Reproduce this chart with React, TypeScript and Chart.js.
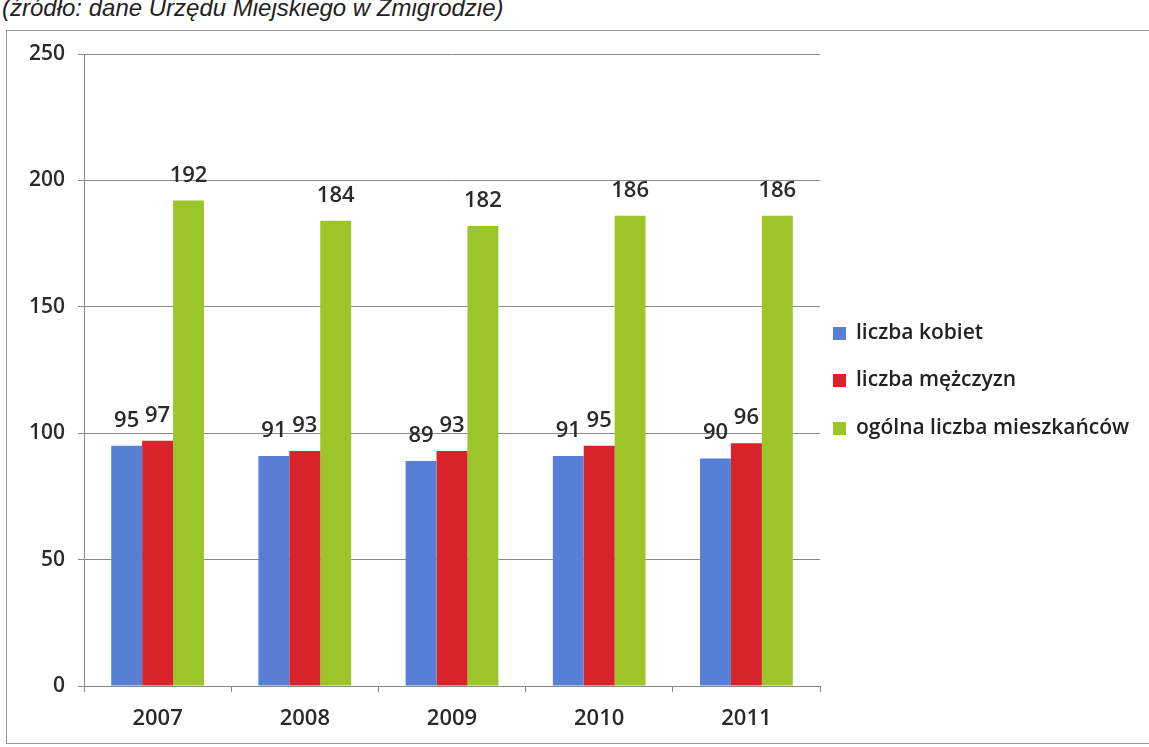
import React, { useEffect, useRef } from "react";
import { Chart, registerables } from "chart.js";
Chart.register(...registerables);

const years = ["2007", "2008", "2009", "2010", "2011"];
const women = [95, 91, 89, 91, 90];
const men = [97, 93, 93, 95, 96];
const total = [192, 184, 182, 186, 186];
const seriesNames = ["liczba kobiet", "liczba mężczyzn", "ogólna liczba mieszkańców"];
const seriesColors = ["#577fd6", "#d8232a", "#9cc52a"];
const yMin = 0;
const yMax = 250;
const yStep = 50;
const sourceNote = "(źródło: dane Urzędu Miejskiego w Żmigrodzie)";

const FONT = "'Open Sans', 'Noto Sans', sans-serif";

const valueLabels = {
  id: "valueLabels",
  afterDatasetsDraw(chart: any) {
    const ctx = chart.ctx;
    ctx.save();
    ctx.font = `600 22px ${FONT}`;
    ctx.fillStyle = "#2a2a2a";
    ctx.textAlign = "center";
    ctx.textBaseline = "alphabetic";
    chart.data.datasets.forEach((ds: any, di: number) => {
      const meta = chart.getDatasetMeta(di);
      meta.data.forEach((bar: any, i: number) => {
        ctx.fillText(String(ds.data[i]), bar.x, bar.y - 19);
      });
    });
    ctx.restore();
  },
};

const sideLegend = {
  id: "sideLegend",
  afterDraw(chart: any) {
    const ctx = chart.ctx;
    ctx.save();
    ctx.font = `600 21px ${FONT}`;
    ctx.textBaseline = "middle";
    ctx.textAlign = "left";
    const x = chart.chartArea.right + 13;
    const ys = [334, 381, 429];
    seriesNames.forEach((name, i) => {
      ctx.fillStyle = seriesColors[i];
      ctx.fillRect(x, ys[i] - 7, 13, 13);
      ctx.fillStyle = "#222";
      ctx.fillText(name, x + 23, ys[i] - 1);
    });
    ctx.restore();
  },
};

export default function App() {
  const ref = useRef<HTMLCanvasElement>(null);
  useEffect(() => {
    if (!ref.current) return;
    const chart = new Chart(ref.current, {
      type: "bar",
      data: {
        labels: years,
        datasets: [
          { label: seriesNames[0], data: women, backgroundColor: seriesColors[0] },
          { label: seriesNames[1], data: men, backgroundColor: seriesColors[1] },
          { label: seriesNames[2], data: total, backgroundColor: seriesColors[2] },
        ],
      },
      options: {
        responsive: false,
        animation: false,
        devicePixelRatio: 1,
        datasets: { bar: { categoryPercentage: 0.63, barPercentage: 1 } },
        layout: { padding: { left: 0, top: 54, right: 329, bottom: 11 } },
        plugins: { legend: { display: false }, tooltip: { enabled: false } },
        scales: {
          x: {
            grid: { drawOnChartArea: false, drawTicks: true, tickLength: 6, color: "#888", offset: true },
            border: { color: "#888" },
            ticks: { font: { family: FONT, size: 22, weight: 600 }, color: "#2a2a2a", padding: 14 },
            afterFit: (s: any) => { s.height = 50; },
          },
          y: {
            min: yMin,
            max: yMax,
            ticks: { stepSize: yStep, font: { family: FONT, size: 21, weight: 600 }, color: "#2a2a2a", padding: 13 },
            grid: { color: "#8a8a8a", tickLength: 6 },
            border: { color: "#888" },
            afterFit: (s: any) => { s.width = 84; },
          },
        },
      },
      plugins: [valueLabels, sideLegend],
    });
    return () => chart.destroy();
  }, []);

  return (
    <div style={{ position: "fixed", left: 0, top: 0, width: 1149, height: 747, background: "#fff", overflow: "hidden" }}>
      <div
        style={{
          position: "absolute", left: 2, top: -4, fontFamily: "'Liberation Sans', Arial, sans-serif",
          fontStyle: "italic", fontSize: 24, lineHeight: "24px", color: "#222", whiteSpace: "nowrap",
        }}
      >
        {sourceNote}
      </div>
      <div style={{ position: "absolute", left: 6, top: 30, width: 1200, height: 712, border: "1px solid #999" }} />
      <canvas ref={ref} width={1149} height={747} style={{ position: "absolute", left: 0, top: 0 }} />
    </div>
  );
}
